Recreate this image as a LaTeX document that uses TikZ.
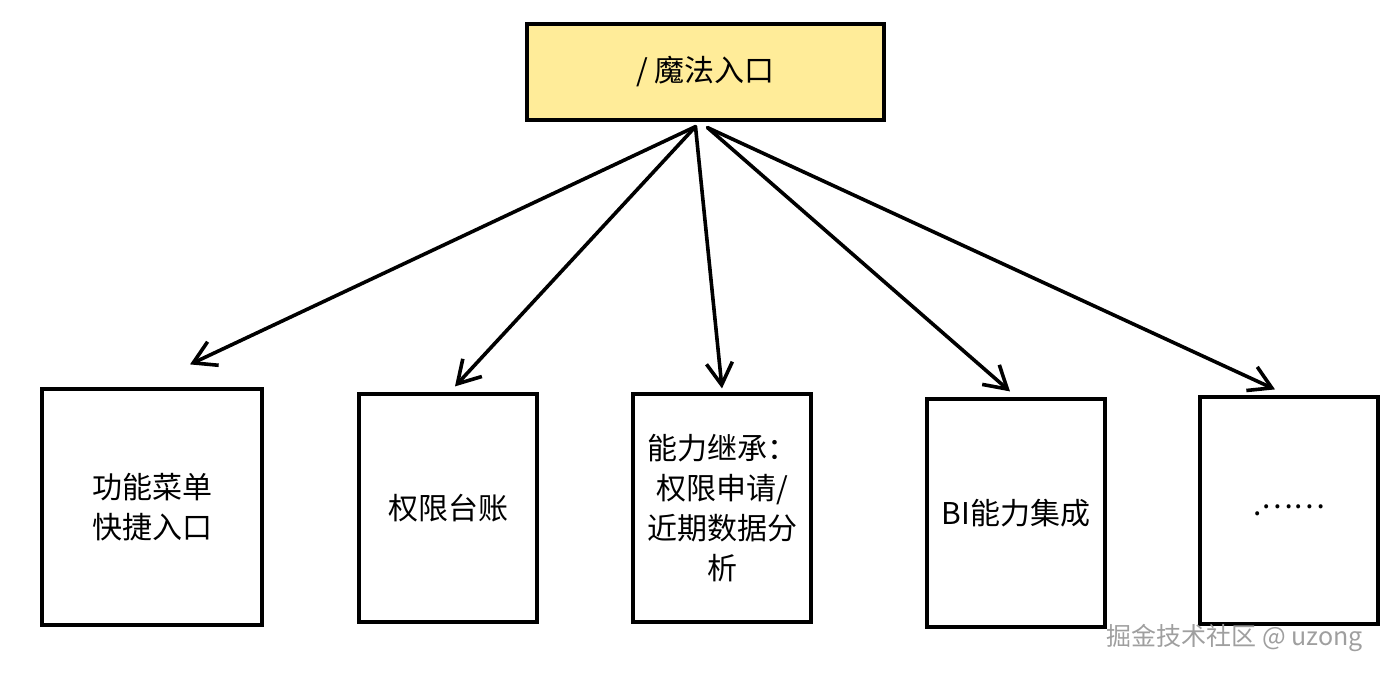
\documentclass[tikz,border=0pt]{standalone}
\usepackage{fontspec}
\setmainfont{Noto Sans CJK SC}
\usepackage{tikz}
\usetikzlibrary{calc,arrows.meta}
\definecolor{entryyellow}{HTML}{FFEC99}

\begin{document}
\begin{tikzpicture}[x=0.5pt,y=-0.5pt,
    card/.style={draw, line width=1.6pt, fill=white, minimum width=89pt, minimum height=114pt, align=center, font=\fontsize{15}{20}\selectfont, inner sep=4pt},
    link/.style={-{Straight Barb[length=11pt,width=13pt,line width=1.8pt]}, line width=1.8pt, line cap=round}]
    \useasboundingbox (0,0) rectangle (1388,674);

    \node[draw, line width=1.6pt, fill=entryyellow, minimum width=178.5pt, minimum height=48pt, font=\fontsize{15}{20}\selectfont] (Entry) at (705.5,72) {/ 魔法入口};

    \node[card, minimum width=110pt, minimum height=118pt] (Menu) at (152,507) {功能菜单\\快捷入口};
    \node[card] (Ledger) at (448,508) {权限台账};
    \node[card] (Inherit) at (722,508) {能力继承：\\权限申请/\\近期数据分\\析};
    \node[card] (BI) at (1016,513) {BI能力集成};
    \node[card, minimum height=113.5pt] (More) at (1289,510.5) {.\raisebox{3.5pt}{……}};

    \coordinate (SplitL) at ($(Entry.south)+(-10,5)$);
    \coordinate (SplitR) at ($(Entry.south)+(2,6)$);

    \draw[link] (SplitL) -- ($(Menu.north)+(38,-23)$);
    \draw[link] (SplitL) -- ($(Ledger.north)+(7,-6)$);
    \draw[link] (SplitL) -- ($(Inherit.north)+(0,-4)$);
    \draw[link] (SplitR) -- ($(BI.north)+(-6,-6)$);
    \draw[link] (SplitR) -- ($(More.north)+(-14,-6)$);

    \node[text=gray!75, font=\fontsize{12.5}{14}\selectfont, anchor=east] (Mark) at (1370,638) {掘金技术社区 @ uzong};
\end{tikzpicture}
\end{document}
